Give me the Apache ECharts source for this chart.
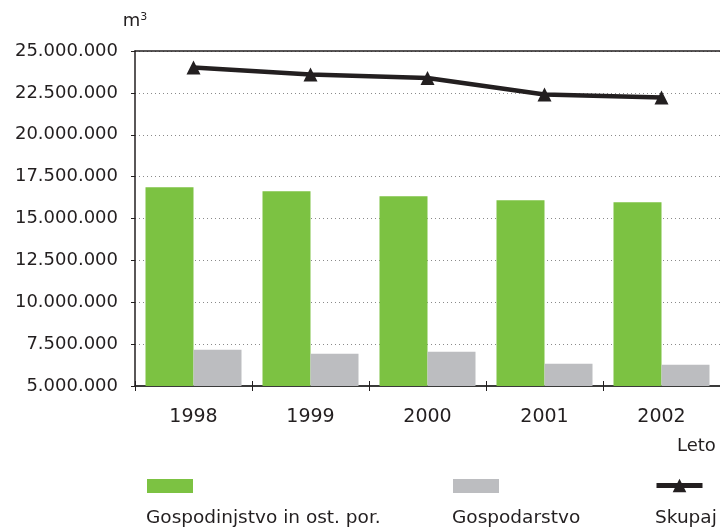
<!DOCTYPE html>
<html>
<head>
<meta charset="utf-8">
<script src="https://cdn.jsdelivr.net/npm/echarts@6/dist/echarts.min.js"></script>
<style>
  html, body { margin: 0; padding: 0; background: #fff; }
  #main { width: 720px; height: 530px; }
</style>
</head>
<body>
<div id="main"></div>
<script>
// podatki
var years = ['1998', '1999', '2000', '2001', '2002'];
var gospodinjstvo = [16860000, 16620000, 16330000, 16090000, 15970000];
var gospodarstvo = [7160000, 6920000, 7040000, 6330000, 6270000];
var skupaj = [24020000, 23600000, 23390000, 22400000, 22230000];
var seriesNames = ['Gospodinjstvo in ost. por.', 'Gospodarstvo', 'Skupaj'];

var txt = '#231f20';
var font = 'DejaVu Sans';

function dots(v) {
    return String(v).replace(/\B(?=(\d{3})+(?!\d))/g, '.');
}

var myChart = echarts.init(document.getElementById('main'));

var option = {
    animation: false,
    backgroundColor: '#fff',
    grid: { left: 135, right: 0, top: 51, bottom: 144, containLabel: false, outerBoundsMode: 'none' },
    legend: [
        { data: [{ name: seriesNames[0], icon: 'rect' }], left: 147, top: 479, padding: 0, itemWidth: 46, itemHeight: 14, formatter: function () { return ''; } },
        { data: [{ name: seriesNames[1], icon: 'rect' }], left: 453, top: 479, padding: 0, itemWidth: 46, itemHeight: 14, formatter: function () { return ''; } },
        { data: [seriesNames[2]], left: 654, top: 477, padding: 0, itemWidth: 46, itemHeight: 17, lineStyle: { width: 5 }, formatter: function () { return ''; } }
    ],
    xAxis: [
        {
            type: 'category',
            data: years,
            position: 'bottom',
            axisLine: { lineStyle: { color: '#3a3a3a', width: 2 } },
            axisTick: { show: true, length: 5, lineStyle: { color: txt, width: 1 } },
            axisLabel: { color: txt, fontFamily: font, fontSize: 19, margin: 22 }
        },
        {
            // ticks above the axis line
            type: 'category',
            data: years,
            position: 'bottom',
            axisLine: { show: false },
            axisTick: { show: true, inside: true, length: 5, lineStyle: { color: txt, width: 1 } },
            axisLabel: { show: false }
        },
        {
            // top border at 25.000.000
            type: 'category',
            data: years,
            position: 'top',
            axisLine: { lineStyle: { color: txt, width: 1.5 } },
            axisTick: { show: false },
            axisLabel: { show: false }
        }
    ],
    yAxis: {
        type: 'value',
        min: 5000000,
        max: 25000000,
        interval: 2500000,
        name: '{m|m}{s|3}',
        nameLocation: 'end',
        nameGap: 20,
        nameTextStyle: {
            color: txt, fontFamily: font, align: 'center',
            rich: {
                m: { fontFamily: font, fontSize: 18, color: txt },
                s: { fontFamily: font, fontSize: 11, color: txt, verticalAlign: 'top', padding: [0, 0, 8, 0] }
            }
        },
        axisLine: { show: true, lineStyle: { color: txt, width: 1.5 } },
        axisTick: { show: true, length: 4, lineStyle: { color: txt, width: 1 } },
        axisLabel: { color: txt, fontFamily: font, fontSize: 18, margin: 17, formatter: dots },
        splitLine: { show: true, lineStyle: { color: '#8a8a8a', width: 1, type: [1, 3] } }
    },
    series: [
        {
            name: seriesNames[0],
            type: 'bar',
            data: gospodinjstvo,
            barWidth: 48,
            barGap: '0%',
            itemStyle: { color: '#7cc242' }
        },
        {
            name: seriesNames[1],
            type: 'bar',
            data: gospodarstvo,
            barWidth: 48,
            barGap: '0%',
            itemStyle: { color: '#bcbdc0' }
        },
        {
            name: seriesNames[2],
            type: 'line',
            data: skupaj,
            symbol: 'triangle',
            symbolSize: 14,
            lineStyle: { color: txt, width: 4.5 },
            itemStyle: { color: txt },
            z: 5
        }
    ],
    graphic: [
        { type: 'text', left: 677, top: 437, style: { text: 'Leto', fill: txt, font: '18px "DejaVu Sans"' } },
        { type: 'text', left: 146, top: 509, style: { text: seriesNames[0], fill: txt, font: '18.5px "DejaVu Sans"' } },
        { type: 'text', left: 452, top: 509, style: { text: seriesNames[1], fill: txt, font: '18.5px "DejaVu Sans"' } },
        { type: 'text', left: 655, top: 509, style: { text: seriesNames[2], fill: txt, font: '18.5px "DejaVu Sans"' } }
    ]
};

myChart.setOption(option);
</script>
</body>
</html>
